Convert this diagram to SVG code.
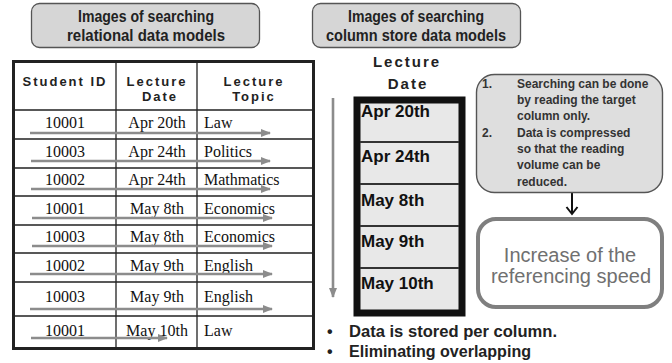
<svg xmlns="http://www.w3.org/2000/svg" width="672" height="363" viewBox="0 0 672 363">
<defs>
<style>
.title{fill:#d6d6d6;stroke:#555;stroke-width:1.3}
.tt{font-family:"Liberation Sans",Arial,sans-serif;font-size:16px;font-weight:bold;fill:#222;text-anchor:middle}
.hd{font-family:"Liberation Sans",Arial,sans-serif;font-size:13px;font-weight:bold;fill:#222;text-anchor:middle;letter-spacing:2px}
.hd2{font-family:"Liberation Sans",Arial,sans-serif;font-size:15px;font-weight:bold;fill:#222;text-anchor:middle;letter-spacing:2px}
.grid{stroke:#222;stroke-width:1.3;fill:none}
.cell{font-family:"Liberation Serif","Times New Roman",serif;font-size:16px;fill:#111}
.mid{text-anchor:middle}
.garr{stroke:#8c8c8c;stroke-width:2.6;fill:none}
.cs{font-family:"Liberation Sans",Arial,sans-serif;font-size:17px;font-weight:bold;fill:#111}
.co{font-family:"Liberation Sans",Arial,sans-serif;font-size:12px;font-weight:bold;fill:#333}
.big{font-family:"Liberation Sans",Arial,sans-serif;font-size:20px;fill:#707070;text-anchor:middle}
.bl{font-family:"Liberation Sans",Arial,sans-serif;font-size:16px;font-weight:bold;fill:#222}
</style>
<marker id="gh" markerUnits="userSpaceOnUse" markerWidth="10" markerHeight="10" viewBox="0 0 10 10" refX="9" refY="5" orient="auto">
<path d="M0,1 L10,5 L0,9 Z" fill="#8c8c8c"/>
</marker>
</defs>

<g id="title-relational">
<rect class="title" x="31.5" y="3.5" width="228" height="44" rx="8"/>
<text class="tt" x="146" y="22" textLength="136" lengthAdjust="spacingAndGlyphs">Images of searching</text>
<text class="tt" x="146" y="41" textLength="158" lengthAdjust="spacingAndGlyphs">relational data models</text>
</g>

<g id="title-column">
<rect class="title" x="312.5" y="3.5" width="208" height="44" rx="8"/>
<text class="tt" x="416" y="22" textLength="136" lengthAdjust="spacingAndGlyphs">Images of searching</text>
<text class="tt" x="416" y="41" textLength="180" lengthAdjust="spacingAndGlyphs">column store data models</text>
</g>

<g id="relational-table">
<rect x="13.5" y="61.5" width="300" height="287" fill="#fff" stroke="#222" stroke-width="3"/>
<path class="grid" d="M116,61 V348 M197,61 V348 M13,110 H313 M13,139 H313 M13,168 H313 M13,196 H313 M13,225 H313 M13,253 H313 M13,282 H313 M13,316 H313"/>
<text class="hd" x="65" y="86">Student ID</text>
<text class="hd" x="157" y="86">Lecture</text>
<text class="hd" x="160" y="101">Date</text>
<text class="hd" x="254" y="86">Lecture</text>
<text class="hd" x="254" y="101">Topic</text>

<text class="cell mid" x="65" y="128">10001</text><text class="cell mid" x="157" y="128">Apr 20th</text><text class="cell" x="204" y="128">Law</text>
<text class="cell mid" x="65" y="157">10003</text><text class="cell mid" x="157" y="157">Apr 24th</text><text class="cell" x="204" y="157">Politics</text>
<text class="cell mid" x="65" y="185">10002</text><text class="cell mid" x="157" y="185">Apr 24th</text><text class="cell" x="204" y="185">Mathmatics</text>
<text class="cell mid" x="65" y="214">10001</text><text class="cell mid" x="157" y="214">May 8th</text><text class="cell" x="204" y="214">Economics</text>
<text class="cell mid" x="65" y="242">10003</text><text class="cell mid" x="157" y="242">May 8th</text><text class="cell" x="204" y="242">Economics</text>
<text class="cell mid" x="65" y="271">10002</text><text class="cell mid" x="157" y="271">May 9th</text><text class="cell" x="204" y="271">English</text>
<text class="cell mid" x="65" y="302">10003</text><text class="cell mid" x="157" y="302">May 9th</text><text class="cell" x="204" y="302">English</text>
<text class="cell mid" x="65" y="336">10001</text><text class="cell mid" x="157" y="336">May 10th</text><text class="cell" x="204" y="336">Law</text>
</g>

<g id="connectors">
<line class="garr" x1="30" y1="133" x2="270" y2="133" marker-end="url(#gh)"/>
<line class="garr" x1="31" y1="161" x2="270" y2="161" marker-end="url(#gh)"/>
<line class="garr" x1="31" y1="189" x2="270" y2="189" marker-end="url(#gh)"/>
<line class="garr" x1="32" y1="218" x2="272" y2="218" marker-end="url(#gh)"/>
<line class="garr" x1="32" y1="246" x2="272" y2="246" marker-end="url(#gh)"/>
<line class="garr" x1="30" y1="274" x2="272" y2="274" marker-end="url(#gh)"/>
<line class="garr" x1="30" y1="309" x2="272" y2="309" marker-end="url(#gh)"/>
<line class="garr" x1="31" y1="338" x2="167" y2="338" marker-end="url(#gh)"/>
<line class="garr" x1="333" y1="98" x2="333" y2="297" marker-end="url(#gh)"/>
<line x1="572" y1="193" x2="572" y2="214" stroke="#111" stroke-width="2"/>
<polyline points="566.5,207 572,214 577.5,207" fill="none" stroke="#111" stroke-width="2"/>
</g>

<g id="column-store">
<text class="hd2" x="407" y="67">Lecture</text>
<text class="hd2" x="408" y="89">Date</text>
<rect x="357" y="100" width="105" height="213" fill="#e8e8e8" stroke="#111" stroke-width="7"/>
<path d="M360,142 H459 M360,184 H459 M360,226 H459 M360,268 H459" stroke="#333" stroke-width="2"/>
<text class="cs" x="361" y="117">Apr 20th</text>
<text class="cs" x="361" y="162">Apr 24th</text>
<text class="cs" x="361" y="206">May 8th</text>
<text class="cs" x="361" y="247">May 9th</text>
<text class="cs" x="361" y="289">May 10th</text>
</g>

<g id="callout">
<rect x="476.5" y="74.5" width="186" height="118" rx="18" fill="#dedede" stroke="#555" stroke-width="1.4"/>
<text class="co" x="482" y="88">1.</text><text class="co" x="517" y="88">Searching can be done</text>
<text class="co" x="517" y="104">by reading the target</text>
<text class="co" x="517" y="120">column only.</text>
<text class="co" x="482" y="137">2.</text><text class="co" x="517" y="137">Data is compressed</text>
<text class="co" x="517" y="153">so that the reading</text>
<text class="co" x="517" y="169">volume can be</text>
<text class="co" x="517" y="186">reduced.</text>
</g>

<g id="result">
<rect x="478" y="219" width="184" height="88" rx="18" fill="#fff" stroke="#7f7f7f" stroke-width="4"/>
<text class="big" x="570" y="262">Increase of the</text>
<text class="big" x="571" y="283">referencing speed</text>
</g>

<g id="notes">
<text class="bl" x="327" y="337">•</text><text class="bl" x="349" y="337" textLength="208" lengthAdjust="spacingAndGlyphs">Data is stored per column.</text>
<text class="bl" x="327" y="357">•</text><text class="bl" x="349" y="357" textLength="182" lengthAdjust="spacingAndGlyphs">Eliminating overlapping</text>
</g>
</svg>
